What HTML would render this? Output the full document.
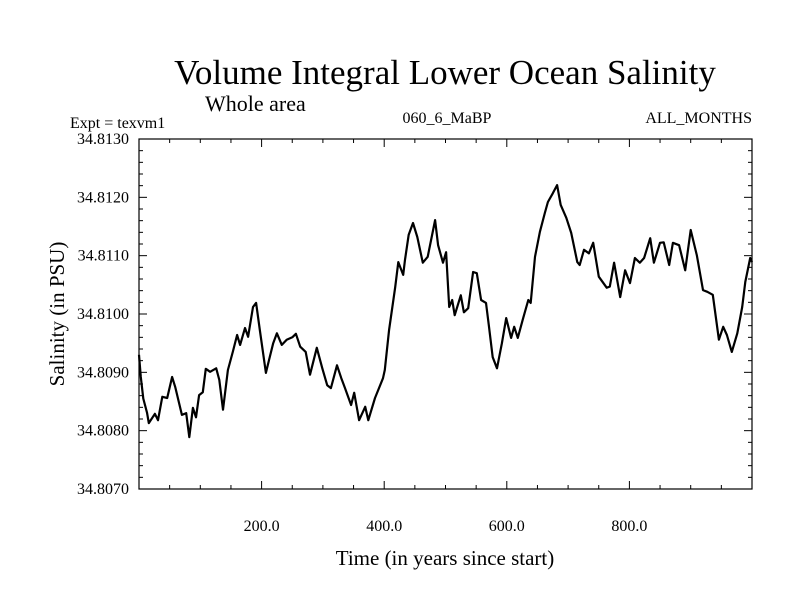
<!DOCTYPE html>
<html><head><meta charset="utf-8"><style>
body{margin:0;background:#fff}
svg text{font-family:"Liberation Serif",serif;fill:#000}
</style></head><body>
<svg width="800" height="600" xmlns="http://www.w3.org/2000/svg">
<rect width="800" height="600" fill="#fff"/>
<text x="445" y="84" font-size="35" text-anchor="middle">Volume Integral Lower Ocean Salinity</text>
<text x="205" y="111" font-size="22">Whole area</text>
<text x="70" y="128" font-size="16">Expt = texvm1</text>
<text x="447" y="123" font-size="16" text-anchor="middle">060_6_MaBP</text>
<text x="752" y="123" font-size="16" text-anchor="end">ALL_MONTHS</text>
<text x="445" y="565" font-size="21" text-anchor="middle">Time (in years since start)</text>
<text transform="translate(64,314) rotate(-90)" font-size="21" text-anchor="middle">Salinity (in PSU)</text>
<g id="axes"></g>
<rect x="139" y="139" width="613" height="350" fill="none" stroke="#000" stroke-width="1.2"/>
<path id="line" fill="none" stroke="#000" stroke-width="2.2" stroke-linejoin="round"/>
</svg>
<script>
const years=[0,3,7,13,16,26,31,38,46,54,59,70,77,82,88,93,98,104,109,116,126,131,137,145,153,160,165,173,178,186,191,197,207,212,219,225,233,241,250,256,263,272,279,290,299,307,313,323,330,336,346,351,359,369,374,385,398,401,408,418,423,431,434,440,447,454,463,471,483,488,496,501,506,511,515,525,530,537,545,551,558,566,571,577,584,592,599,607,612,618,626,635,639,646,654,662,667,675,682,688,697,705,715,719,726,734,741,750,763,768,775,785,793,801,809,817,824,834,840,850,856,865,871,881,891,900,910,920,927,936,946,953,959,967,976,984,989,997,1000];
const salinity=[34.8093,34.80892,34.80855,34.80831,34.80813,34.80829,34.80818,34.80858,34.80856,34.80892,34.80875,34.80827,34.8083,34.80789,34.80839,34.80823,34.80861,34.80866,34.80906,34.80901,34.80907,34.80887,34.80836,34.80904,34.80935,34.80964,34.80947,34.80976,34.80961,34.81012,34.81019,34.80973,34.80899,34.80921,34.8095,34.80967,34.80947,34.80956,34.8096,34.80966,34.80944,34.80935,34.80896,34.80942,34.80907,34.80878,34.80873,34.80912,34.8089,34.80873,34.80844,34.80865,34.80818,34.80841,34.80818,34.80856,34.8089,34.80904,34.80973,34.81046,34.81089,34.81067,34.81093,34.81136,34.81156,34.81132,34.81088,34.81098,34.81161,34.81118,34.81088,34.81106,34.81012,34.81024,34.80998,34.81032,34.81003,34.8101,34.81072,34.8107,34.81024,34.81019,34.80978,34.80926,34.80907,34.8095,34.80993,34.80959,34.80978,34.80959,34.8099,34.81024,34.81019,34.81098,34.81141,34.81173,34.81192,34.81207,34.81221,34.81187,34.81165,34.81139,34.81089,34.81084,34.8111,34.81104,34.81122,34.81064,34.81045,34.81047,34.81088,34.81029,34.81075,34.81053,34.81096,34.81088,34.81096,34.8113,34.81088,34.81122,34.81123,34.81084,34.81122,34.81118,34.81075,34.81144,34.81101,34.81041,34.81038,34.81033,34.80956,34.80978,34.80964,34.80935,34.80967,34.81012,34.81055,34.81096,34.81089];
const yTickLabels=["34.8070","34.8080","34.8090","34.8100","34.8110","34.8120","34.8130"];
const xTickLabels=["200.0","400.0","600.0","800.0"];
const X0=139,X1=752,Y0=489,Y1=139,YMIN=34.807,YMAX=34.813;
const xs=v=>X0+(v/1000)*(X1-X0);
const ys=v=>Y0-(v-YMIN)/(YMAX-YMIN)*(Y0-Y1);
const NS="http://www.w3.org/2000/svg";
const g=document.getElementById('axes');
function ln(x1,y1,x2,y2){const l=document.createElementNS(NS,'line');l.setAttribute('x1',x1);l.setAttribute('y1',y1);l.setAttribute('x2',x2);l.setAttribute('y2',y2);l.setAttribute('stroke','#000');l.setAttribute('stroke-width','1');


g.appendChild(l);}
for(let i=0;i<=30;i++){const v=YMIN+i*0.0002,y=ys(v),L=i%5===0?8:4;ln(X0,y,X0+L,y);ln(X1,y,X1-L,y);}
for(let i=0;i<=20;i++){const x=xs(i*50),L=i%4===0?8:4;ln(x,Y0,x,Y0-L);ln(x,Y1,x,Y1+L);}
yTickLabels.forEach(s=>{const t=document.createElementNS(NS,'text');t.setAttribute('x',129);t.setAttribute('y',ys(parseFloat(s))+5);t.setAttribute('font-size','16');t.setAttribute('text-anchor','end');t.textContent=s;


g.appendChild(t);});
xTickLabels.forEach(s=>{const t=document.createElementNS(NS,'text');t.setAttribute('x',xs(parseFloat(s)));t.setAttribute('y',531);t.setAttribute('font-size','16');t.setAttribute('text-anchor','middle');t.textContent=s;


g.appendChild(t);});
document.getElementById('line').setAttribute('d',years.map((yr,i)=>(i?'L':'M')+xs(yr).toFixed(1)+','+ys(salinity[i]).toFixed(1)).join(''));
</script>
</body></html>
